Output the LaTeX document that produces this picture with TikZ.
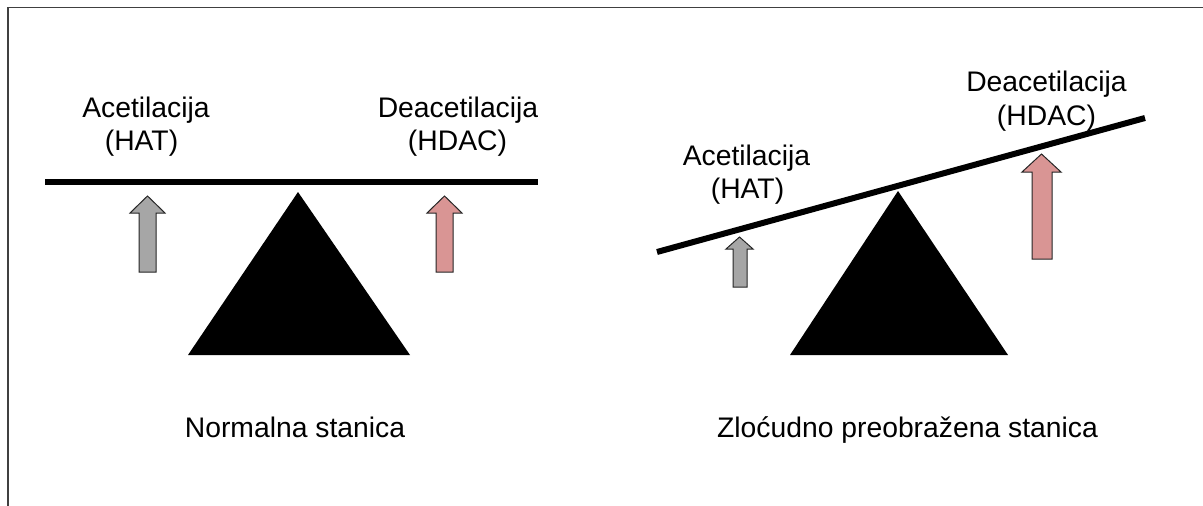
\documentclass[tikz,border=0pt]{standalone}
\usepackage{fontspec}
\setmainfont{Liberation Sans}
\definecolor{hatgray}{HTML}{A6A6A6}
\definecolor{hdacpink}{HTML}{D99594}
\definecolor{framegray}{HTML}{404040}
\begin{document}
\begin{tikzpicture}[x=1pt,y=-1pt,
  lbl/.style={font=\fontsize{28.3}{32}\selectfont, inner sep=0pt, anchor=base},
  beam/.style={line width=6pt},
  fulcrum/.style={fill=black, draw=none},
  uparrow/.style={draw=black!85, line width=1pt, line join=miter}]
\useasboundingbox (0,0) rectangle (1203,506);
\fill[white] (0,0) rectangle (1203,506);
% frame
\draw[framegray, line width=1.5pt] (8,506) -- (8,7.5) -- (1203,7.5);
% ---- left panel: balanced
\draw[beam] (45,182) -- (538,182);
\fill[fulcrum] (298,192) -- (410,355) -- (188,355) -- cycle;
\draw[uparrow, fill=hatgray] (139,272) -- (139,213) -- (130,213) -- (147.5,196) -- (165,213) -- (156,213) -- (156,272) -- cycle;
\draw[uparrow, fill=hdacpink] (436,272) -- (436,213) -- (427,213) -- (444.5,196) -- (462,213) -- (453,213) -- (453,272) -- cycle;
\node[lbl] (acL) at (146,117) {Acetilacija};
\node[lbl] (hatL) at (141.5,150) {(HAT)};
\node[lbl] (deL) at (458,117) {Deacetilacija};
\node[lbl] (hdacL) at (457.5,150) {(HDAC)};
\node[lbl] (normal) at (295,437) {Normalna stanica};
% ---- right panel: tilted
\draw[beam] (657,252) -- (1145,118);
\fill[fulcrum] (898,191) -- (1008,355) -- (790,355) -- cycle;
\draw[uparrow, fill=hatgray] (733,287) -- (733,249) -- (726,249) -- (739.5,237) -- (753,249) -- (747,249) -- (747,287) -- cycle;
\draw[uparrow, fill=hdacpink] (1032,259) -- (1032,172) -- (1022,172) -- (1041.5,154) -- (1061,172) -- (1052,172) -- (1052,259) -- cycle;
\node[lbl] (acR) at (746.5,165) {Acetilacija};
\node[lbl] (hatR) at (747.5,198) {(HAT)};
\node[lbl] (deR) at (1046.5,91.5) {Deacetilacija};
\node[lbl] (hdacR) at (1046.5,125) {(HDAC)};
\node[lbl] (malign) at (907.5,437) {Zloćudno preobražena stanica};
\end{tikzpicture}
\end{document}
